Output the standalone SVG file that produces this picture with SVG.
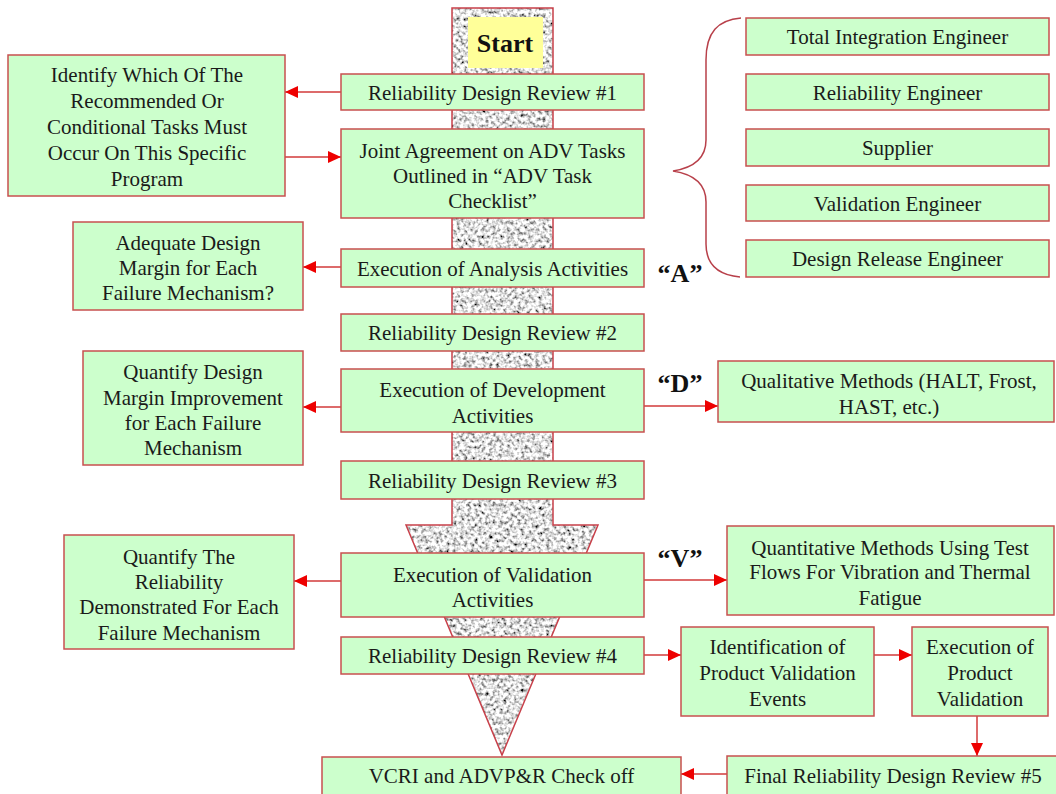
<svg xmlns="http://www.w3.org/2000/svg" width="1056" height="794" viewBox="0 0 1056 794" font-family="Liberation Serif, DejaVu Serif, serif">
  <style>
    .box { fill: #ccffcc; stroke: #c8504f; stroke-width: 1.5; }
    .start { fill: #ffff99; stroke: none; }
    .t { font-size: 21px; fill: #1a1a1a; text-anchor: middle; }
    .big { font-size: 26px; font-weight: bold; fill: #111; text-anchor: middle; }
    .conn { stroke: #d23a3a; stroke-width: 1.5; fill: none; marker-end: url(#head); }
    .brace { stroke: #b8404a; stroke-width: 1.5; fill: none; }
  </style>
  <defs>
    <marker id="head" markerUnits="userSpaceOnUse" markerWidth="13" markerHeight="12" refX="13" refY="6" orient="auto">
      <path d="M0,0 L13,6 L0,12 z" fill="#ee0000"/>
    </marker>
    <!-- speckled granite fill for the big process arrow -->
    <filter id="granite" x="0" y="0" width="1" height="1">
      <feTurbulence type="fractalNoise" baseFrequency="0.28" numOctaves="2" seed="7" result="noise"/>
      <feColorMatrix in="noise" type="matrix" values="2.4 0 0 0 -0.45  2.4 0 0 0 -0.45  2.4 0 0 0 -0.45  0 0 0 0 1" result="gray"/>
      <feComposite in="gray" in2="SourceGraphic" operator="in"/>
    </filter>
  </defs>

  <rect width="1056" height="794" fill="#ffffff"/>

  <!-- central process arrow -->
  <g id="process-arrow">
    <polygon points="452,8 553,8 553,525 598,525 502,755 406,525 452,525" fill="#999" filter="url(#granite)"/>
    <polygon points="452,8 553,8 553,525 598,525 502,755 406,525 452,525" fill="none" stroke="#c8404a" stroke-width="1.5"/>
  </g>

  <g id="start">
    <rect class="start" x="468" y="17" width="75" height="51"/>
    <text class="big" x="505" y="52">Start</text>
  </g>

  <!-- connectors -->
  <g id="connectors">
    <line class="conn" x1="341" y1="92" x2="285" y2="92"/>
    <line class="conn" x1="285" y1="157" x2="341" y2="157"/>
    <line class="conn" x1="341" y1="267" x2="303" y2="267"/>
    <line class="conn" x1="341" y1="407" x2="303" y2="407"/>
    <line class="conn" x1="644" y1="406" x2="718" y2="406"/>
    <line class="conn" x1="341" y1="581" x2="294" y2="581"/>
    <line class="conn" x1="644" y1="580" x2="727" y2="580"/>
    <line class="conn" x1="644" y1="655" x2="681" y2="655"/>
    <line class="conn" x1="874" y1="655" x2="912" y2="655"/>
    <line class="conn" x1="977" y1="716" x2="977" y2="756"/>
    <line class="conn" x1="727" y1="774" x2="681" y2="774"/>
    <path class="brace" d="M741,18 C718,20 706,32 706,60 L706,140 C706,160 692,168 673,171 C692,174 706,182 706,202 L706,244 C706,264 718,275 740,277"/>
  </g>

  <!-- central column -->
  <g id="rdr1">
    <rect class="box" x="341" y="74" width="303" height="36"/>
    <text class="t" x="492.5" y="99.5">Reliability Design Review #1</text>
  </g>
  <g id="joint-agreement">
    <rect class="box" x="341" y="129" width="303" height="89"/>
    <text class="t" x="492.5" y="157.5">Joint Agreement on ADV Tasks</text>
    <text class="t" x="492.5" y="182.5">Outlined in “ADV Task</text>
    <text class="t" x="492.5" y="207.5">Checklist”</text>
  </g>
  <g id="exec-analysis">
    <rect class="box" x="341" y="249" width="303" height="38"/>
    <text class="t" x="492.5" y="275.5">Execution of Analysis Activities</text>
  </g>
  <g id="rdr2">
    <rect class="box" x="341" y="314" width="303" height="37"/>
    <text class="t" x="492.5" y="340">Reliability Design Review #2</text>
  </g>
  <g id="exec-development">
    <rect class="box" x="341" y="369" width="303" height="63"/>
    <text class="t" x="492.5" y="397">Execution of Development</text>
    <text class="t" x="492.5" y="423">Activities</text>
  </g>
  <g id="rdr3">
    <rect class="box" x="341" y="461" width="303" height="38"/>
    <text class="t" x="492.5" y="487.5">Reliability Design Review #3</text>
  </g>
  <g id="exec-validation">
    <rect class="box" x="341" y="553" width="303" height="64"/>
    <text class="t" x="492.5" y="581.5">Execution of Validation</text>
    <text class="t" x="492.5" y="606.5">Activities</text>
  </g>
  <g id="rdr4">
    <rect class="box" x="341" y="637" width="303" height="37"/>
    <text class="t" x="492.5" y="663">Reliability Design Review #4</text>
  </g>
  <g id="vcri">
    <rect class="box" x="322" y="757" width="359" height="45"/>
    <text class="t" x="501.5" y="783">VCRI and ADVP&amp;R Check off</text>
  </g>

  <!-- left column -->
  <g id="identify-tasks">
    <rect class="box" x="8" y="55" width="277" height="141"/>
    <text class="t" x="147" y="82">Identify Which Of The</text>
    <text class="t" x="147" y="108">Recommended Or</text>
    <text class="t" x="147" y="134">Conditional Tasks Must</text>
    <text class="t" x="147" y="160">Occur On This Specific</text>
    <text class="t" x="147" y="186">Program</text>
  </g>
  <g id="adequate-margin">
    <rect class="box" x="73" y="222" width="230" height="88"/>
    <text class="t" x="188" y="249.5">Adequate Design</text>
    <text class="t" x="188" y="274.5">Margin for Each</text>
    <text class="t" x="188" y="299.5">Failure Mechanism?</text>
  </g>
  <g id="quantify-margin">
    <rect class="box" x="83" y="351" width="220" height="114"/>
    <text class="t" x="193" y="378.5">Quantify Design</text>
    <text class="t" x="193" y="404.5">Margin Improvement</text>
    <text class="t" x="193" y="430">for Each Failure</text>
    <text class="t" x="193" y="455">Mechanism</text>
  </g>
  <g id="quantify-reliability">
    <rect class="box" x="64" y="535" width="230" height="114"/>
    <text class="t" x="179" y="563.5">Quantify The</text>
    <text class="t" x="179" y="588.5">Reliability</text>
    <text class="t" x="179" y="613.5">Demonstrated For Each</text>
    <text class="t" x="179" y="639.5">Failure Mechanism</text>
  </g>

  <!-- right column: participants -->
  <g id="total-integration-engineer">
    <rect class="box" x="746" y="18" width="303" height="37"/>
    <text class="t" x="897.5" y="44">Total Integration Engineer</text>
  </g>
  <g id="reliability-engineer">
    <rect class="box" x="746" y="74" width="303" height="36"/>
    <text class="t" x="897.5" y="99.5">Reliability Engineer</text>
  </g>
  <g id="supplier">
    <rect class="box" x="746" y="129" width="303" height="37"/>
    <text class="t" x="897.5" y="155">Supplier</text>
  </g>
  <g id="validation-engineer">
    <rect class="box" x="746" y="185" width="303" height="36"/>
    <text class="t" x="897.5" y="210.5">Validation Engineer</text>
  </g>
  <g id="design-release-engineer">
    <rect class="box" x="746" y="240" width="303" height="37"/>
    <text class="t" x="897.5" y="266">Design Release Engineer</text>
  </g>

  <!-- right column: methods and validation -->
  <g id="qualitative-methods">
    <rect class="box" x="718" y="361" width="336" height="61"/>
    <text class="t" x="889" y="387.5">Qualitative Methods (HALT, Frost,</text>
    <text class="t" x="889" y="413.5">HAST, etc.)</text>
  </g>
  <g id="quantitative-methods">
    <rect class="box" x="727" y="526" width="327" height="89"/>
    <text class="t" x="890" y="554.5">Quantitative Methods Using Test</text>
    <text class="t" x="890" y="579">Flows For Vibration and Thermal</text>
    <text class="t" x="890" y="604.5">Fatigue</text>
  </g>
  <g id="identification-events">
    <rect class="box" x="681" y="627" width="193" height="89"/>
    <text class="t" x="777.5" y="653.5">Identification of</text>
    <text class="t" x="777.5" y="680">Product Validation</text>
    <text class="t" x="777.5" y="706">Events</text>
  </g>
  <g id="execution-product-validation">
    <rect class="box" x="912" y="627" width="136" height="89"/>
    <text class="t" x="980" y="653.5">Execution of</text>
    <text class="t" x="980" y="680">Product</text>
    <text class="t" x="980" y="706">Validation</text>
  </g>
  <g id="final-review">
    <rect class="box" x="727" y="756" width="335" height="46"/>
    <text class="t" x="893" y="782.5">Final Reliability Design Review #5</text>
  </g>

  <!-- phase labels -->
  <g id="labels">
    <text class="big" x="680" y="282">“A”</text>
    <text class="big" x="680" y="392">“D”</text>
    <text class="big" x="680" y="567">“V”</text>
  </g>
</svg>
